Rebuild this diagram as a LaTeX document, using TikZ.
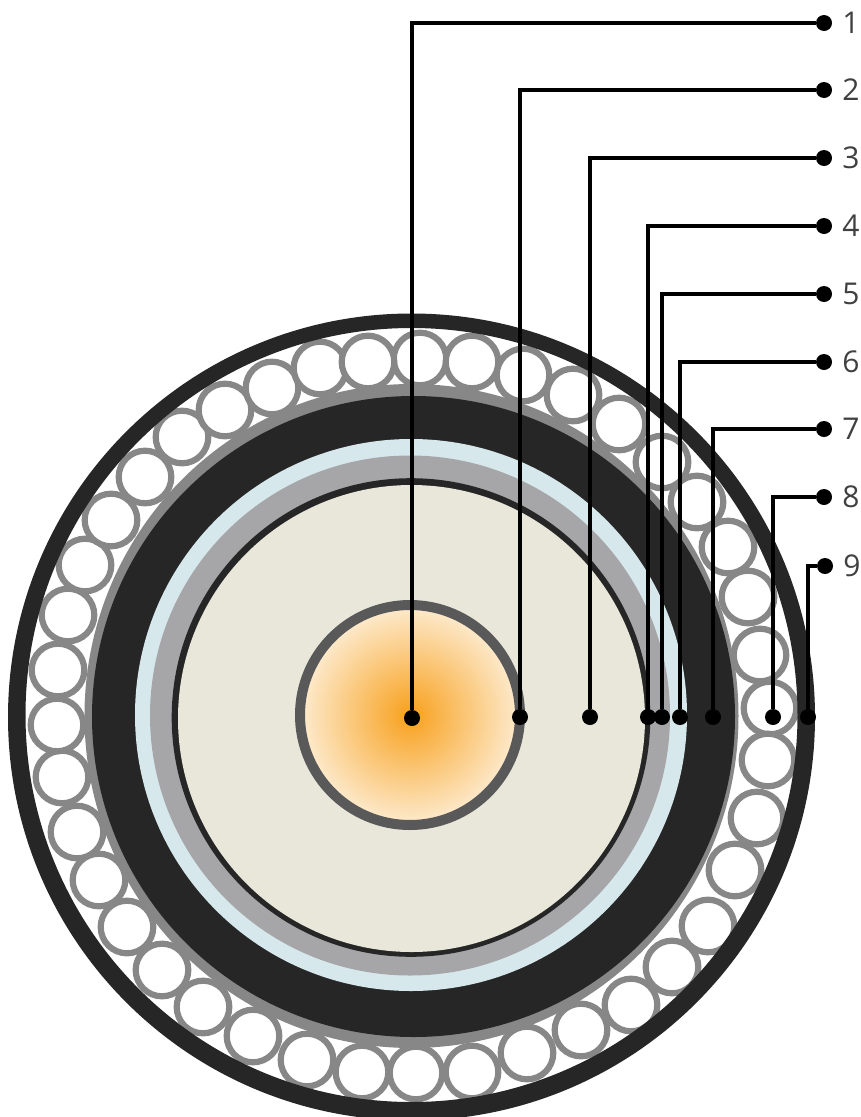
\documentclass[tikz,border=0pt]{standalone}
\usepackage{fontspec}
\setmainfont{Open Sans}
\usepackage{xcolor}
\usetikzlibrary{positioning}
\definecolor{cdark}{HTML}{262626}
\definecolor{cgrey}{HTML}{878787}
\definecolor{cband}{HTML}{A6A6A8}
\definecolor{cblue}{HTML}{D6E8EC}
\definecolor{ccream}{HTML}{E8E7DA}
\definecolor{cscreen}{HTML}{595959}
\definecolor{cglow}{HTML}{F8A01C}
\definecolor{cpale}{HTML}{FDEBCF}

\begin{document}
\begin{tikzpicture}[
  x=1pt,y=-1pt,
  wire/.style={draw=cgrey,fill=white,line width=6.2pt},
  dot/.style={circle,fill=black,inner sep=0pt,minimum size=16pt},
  num/.style={font=\fontsize{30}{30}\selectfont,text=black!75,inner sep=0pt,right=10pt of #1},
  leader/.style={draw=black,line width=3.2pt}
]
\clip (0,0) rectangle (860,1117);
\fill[white] (0,0) rectangle (860,1117);

% cable layers, outside in
\fill[cgrey] (411.5,716) circle [x radius=327,y radius=332];
\foreach \wx/\wy in {420/359,472/362,523/375,573/395,619/424,662/462,697/502,728/547,
    748/597,760/655,770/708,768/760,757/818,735/870,708/926,672/967,631/1005,581/1030,
    527/1053,472/1072,416/1073,362/1072,307/1060,253/1036,203/1007,162/970,127/927,
    99/880,77/832,62/777,57/725,58/670,68/615,85/565,111/520,145/477,182/437,225/410,
    272/388,320/368,368/362}
  \draw[wire] (\wx,\wy) circle [radius=26.3];
\fill[cdark,even odd rule] (411.5,717) circle [radius=403.5]
  (411.5,715) circle [x radius=386,y radius=387];
\fill[cdark] (413.5,716.5) circle [x radius=321.5,y radius=320.5];
\fill[cblue] (411,715) circle [radius=276];
\fill[cband] (410,715.5) circle [radius=260];
\fill[cdark] (411,717.5) circle [radius=239.3];
\fill[ccream] (411.5,718.5) circle [radius=233.5];
\shade[inner color=cglow,outer color=cpale] (410,715) circle [radius=110];
\draw[cscreen,line width=10pt] (410,715) circle [radius=110];

% end points in the cable
\node[dot] (core) at (412,718) {};
\node[dot] (screen) at (520,717) {};
\node[dot] (insul) at (590,717) {};
\node[dot] (outerscreen) at (648,717) {};
\node[dot] (tape) at (662,717) {};
\node[dot] (sheath) at (680,717) {};
\node[dot] (jacket) at (713,717) {};
\node[dot] (armour) at (773,717) {};
\node[dot] (serving) at (808,717) {};

% numbered ends
\node[dot] (tag1) at (824,23) {};
\node[dot] (tag2) at (824,90) {};
\node[dot] (tag3) at (824,158) {};
\node[dot] (tag4) at (824,226) {};
\node[dot] (tag5) at (824,294) {};
\node[dot] (tag6) at (824,362) {};
\node[dot] (tag7) at (824,429) {};
\node[dot] (tag8) at (824,497) {};
\node[dot] (tag9) at (825,566) {};
\node[num=tag1] (num1) {1};
\node[num=tag2] (num2) {2};
\node[num=tag3] (num3) {3};
\node[num=tag4] (num4) {4};
\node[num=tag5] (num5) {5};
\node[num=tag6] (num6) {6};
\node[num=tag7] (num7) {7};
\node[num=tag8] (num8) {8};
\node[num=tag9] (num9) {9};

\draw[leader] (core) |- (tag1);
\draw[leader] (screen) |- (tag2);
\draw[leader] (insul) |- (tag3);
\draw[leader] (outerscreen) |- (tag4);
\draw[leader] (tape) |- (tag5);
\draw[leader] (sheath) |- (tag6);
\draw[leader] (jacket) |- (tag7);
\draw[leader] (armour) |- (tag8);
\draw[leader] (serving) |- (tag9);
\end{tikzpicture}
\end{document}
